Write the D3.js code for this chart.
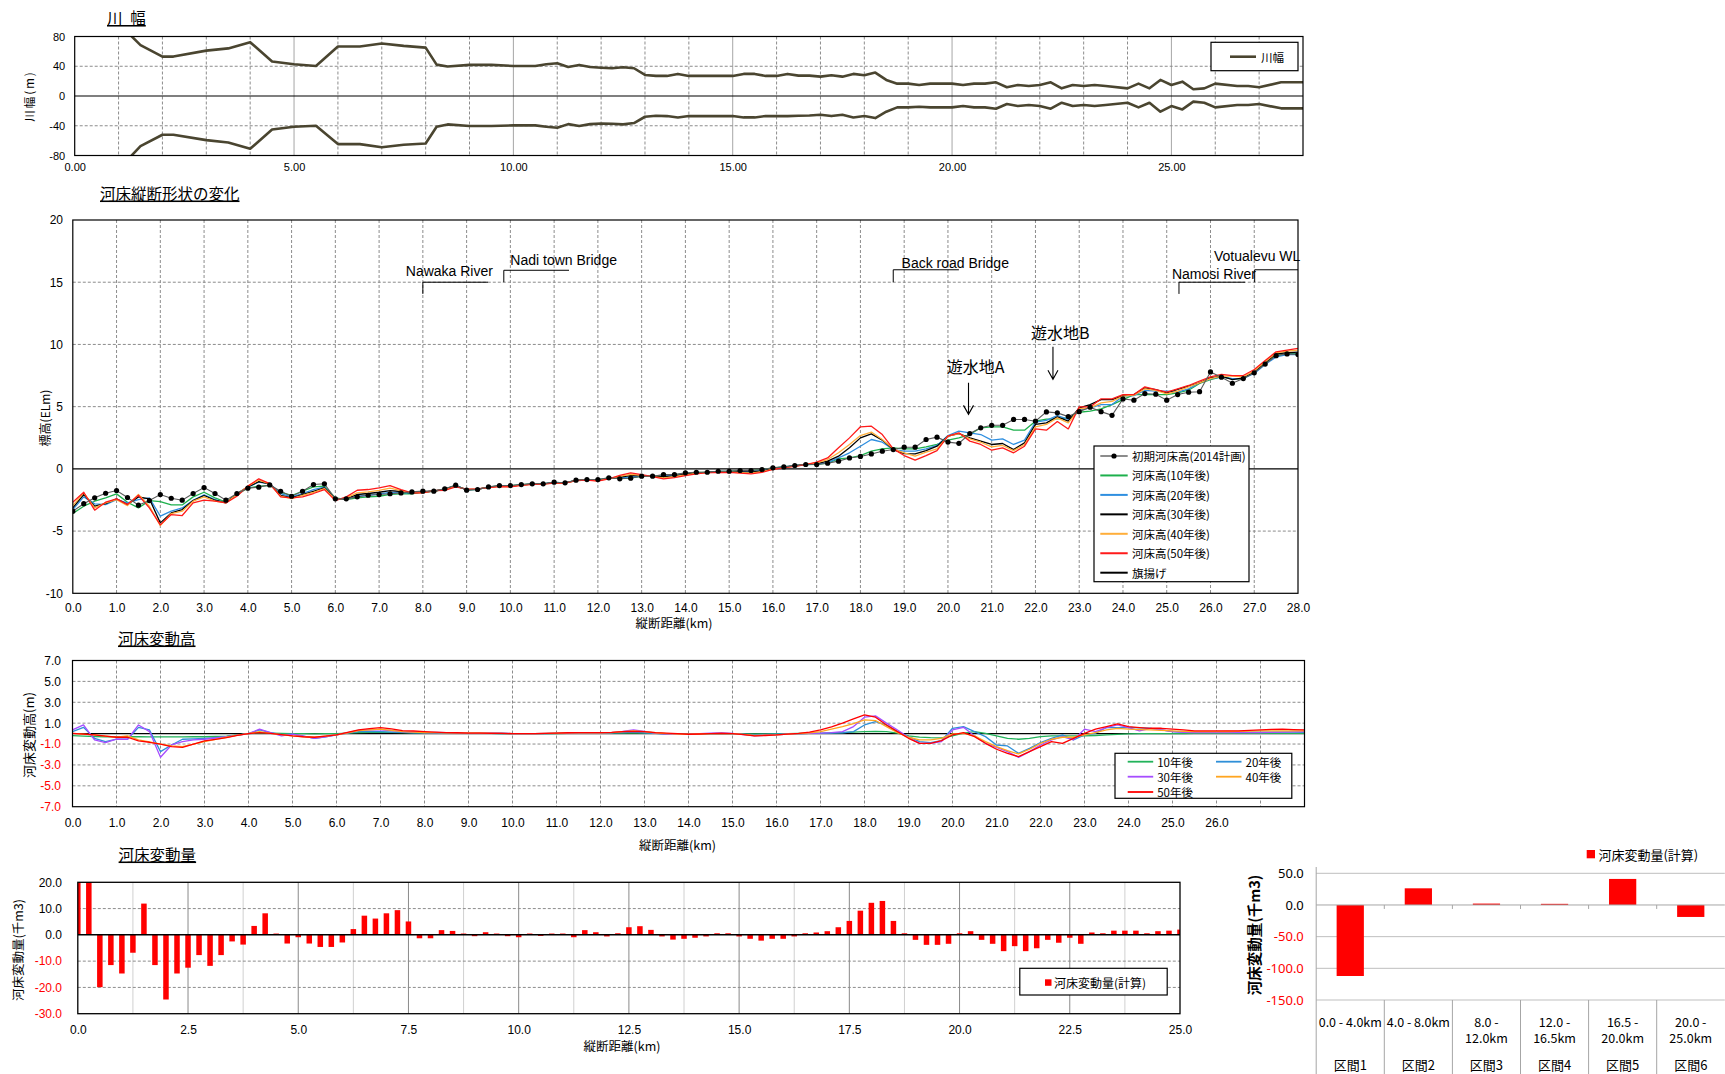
<!DOCTYPE html>
<html>
<head>
<meta charset="utf-8">
<script src="https://cdn.jsdelivr.net/npm/d3@7"></script>
<style>
  body { margin: 0; background: #fff; }
  svg { display: block; }
</style>
</head>
<body>
<svg id="chart" width="1725" height="1074"></svg>
<script>
// ---------------- data ----------------
// River width (m) from the centre line, left bank positive / right bank negative
const widthKm = [1.0,1.25,1.5,2.0,2.25,3.0,3.5,4.0,4.5,5.0,
  5.5,6.0,6.5,7.0,7.5,8.0,8.25,8.5,9.0,9.5,
  10.0,10.5,10.75,11.0,11.25,11.5,11.75,12.0,12.25,12.5,
  12.75,13.0,13.25,13.5,13.75,14.0,15.0,15.25,15.5,15.75,
  16.0,16.25,16.5,16.75,17.0,17.25,17.5,17.75,18.0,18.25,
  18.5,18.75,19.0,19.25,19.5,20.0,20.25,20.5,20.75,21.0,
  21.25,21.5,21.75,22.0,22.25,22.5,22.75,23.0,23.25,23.5,
  24.0,24.25,24.5,24.75,25.0,25.25,25.5,25.75,26.0,26.5,
  26.75,27.0,27.5,28.0];
const widthLeftBank = [98,83,68.5,53,53,61,64,72.4,46.3,42.7,
  40.4,66.5,66.5,70.5,67.4,65,42.2,39.6,41.8,41.8,
  40.4,40.4,42.7,44,39,41.8,39,38,37.3,38.6,
  37.3,28.3,27,27,29.7,27,27,29.7,29.7,27,
  27,29.7,27.4,27.4,26,27.9,26,29.7,27.9,31.5,
  21.6,16.6,16.6,14.8,16.6,16.6,14.8,16.6,16.6,18.4,
  11.7,14.8,13.5,14.8,18.4,10.3,14.8,13.5,14.8,13.5,
  10.3,16.6,10.3,21.6,14.8,19.3,9,10.3,16.6,13.5,
  13.5,11.7,18.4,18.4];
const widthRightBank = [-98,-83,-67.4,-52.1,-52,-59.3,-62.5,-71,-45,-41.3,
  -40,-64.7,-64.7,-68.8,-65.6,-63.8,-41.3,-38.2,-40.4,-40.4,
  -39.5,-39.5,-41.3,-42.7,-37.8,-40.4,-37.8,-36.9,-37.3,-38.2,
  -36.4,-27.9,-26.5,-27,-28.8,-27,-27,-28.8,-28.8,-27,
  -27,-27,-26.5,-26.2,-25.2,-27,-25.2,-28.8,-27,-29.7,
  -21.1,-15.3,-15.3,-14.4,-15.3,-15.3,-13.5,-15.3,-15.3,-17.1,
  -10.8,-13.5,-12.1,-13.5,-17.1,-9,-13.5,-12.1,-13.5,-12.1,
  -9,-15.3,-9,-21.1,-13.5,-18,-7.6,-9,-15.3,-12.1,
  -12.1,-10.8,-16.6,-16.6];

// Longitudinal stations (km)
const stationKm = [0,0.25,0.5,0.75,1,1.25,1.5,1.75,2,2.25,2.5,2.75,3,3.25,3.5,3.75,
  4,4.25,4.5,4.75,5,5.25,5.5,5.75,6,6.25,6.5,6.75,7,7.25,7.5,7.75,
  8,8.25,8.5,8.75,9,9.25,9.5,9.75,10,10.25,10.5,10.75,11,11.25,11.5,11.75,
  12,12.25,12.5,12.75,13,13.25,13.5,13.75,14,14.25,14.5,14.75,15,15.25,15.5,15.75,
  16,16.25,16.5,16.75,17,17.25,17.5,17.75,18,18.25,18.5,18.75,19,19.25,19.5,19.75,
  20,20.25,20.5,20.75,21,21.25,21.5,21.75,22,22.25,22.5,22.75,23,23.25,23.5,23.75,
  24,24.25,24.5,24.75,25,25.25,25.5,25.75,26,26.25,26.5,26.75,27,27.25,27.5,27.75,28];

// Bed elevation (EL m)
const bedInitial = [-3.4,-2.8,-2.33,-1.96, -1.74,-2.3,-2.92,-2.55, -2.06,-2.36,-2.52,-1.98, -1.5,-1.98,-2.52,-1.98,
  -1.55,-1.47,-1.29,-1.8, -2.2,-1.8,-1.26,-1.2, -2.41,-2.41,-2.25,-2.12, -2.06,-2.0,-1.93,-1.85,
  -1.79,-1.79,-1.6,-1.31, -1.71,-1.66,-1.45,-1.34, -1.34,-1.26,-1.2,-1.2, -1.07,-1.12,-0.91,-0.86,
  -0.86,-0.72,-0.8,-0.75, -0.59,-0.59,-0.46,-0.46, -0.32,-0.27,-0.27,-0.19, -0.19,-0.13,-0.13,-0.05,
  0.08,0.16,0.27,0.35, 0.35,0.45,0.62,0.88, 1.0,1.2,1.42,1.55, 1.74,1.74,2.36,2.55,
  2.15,2.05,2.84,3.3, 3.5,3.5,3.97,3.97, 3.83,4.58,4.5,4.2, 4.6,4.95,4.6,4.3,
  5.62,5.52,6.05,6.0, 5.52,5.97,6.16,6.2, 7.79,7.37,6.88,7.26, 7.72,8.42,9.1,9.24, 9.19];
const bed10 = [-3.59,-3.0,-2.6,-2.33, -2.01,-2.68,-3.14,-2.55, -2.63,-2.9,-2.9,-2.25, -1.88,-2.33,-2.68,-2.06,
  -1.55,-1.39,-1.34,-1.88, -2.14,-1.8,-1.45,-1.39, -2.33,-2.47,-2.33,-2.25, -2.2,-2.05,-2.0,-2.0,
  -1.85,-1.8,-1.62,-1.33, -1.7,-1.65,-1.46,-1.35, -1.35,-1.27,-1.21,-1.2, -1.08,-1.12,-0.92,-0.87,
  -0.87,-0.73,-0.78,-0.72, -0.6,-0.6,-0.5,-0.48, -0.35,-0.29,-0.28,-0.2, -0.19,-0.15,-0.14,-0.07,
  0.07,0.15,0.26,0.35, 0.36,0.46,0.8,0.88, 1.07,1.42,1.61,1.69, 1.61,1.61,1.77,1.96,
  2.31,2.49,2.76,3.3, 3.38,3.38,3.11,3.11, 3.83,4.0,4.02,4.1, 4.55,4.64,4.82,5.17,
  5.57,5.97,5.97,5.97, 5.97,6.11,6.32,6.86, 7.18,7.4,7.24,7.24, 7.72,8.47,9.11,9.25, 9.25];
const bed20 = [-3.27,-2.25,-2.81,-2.87, -2.47,-2.73,-2.47,-2.33, -3.8,-3.4,-3.14,-2.52, -2.09,-2.47,-2.73,-2.01,
  -1.47,-1.07,-1.2,-1.98, -2.25,-1.98,-1.66,-1.47, -2.39,-2.41,-2.2,-2.12, -2.01,-1.9,-1.9,-1.95,
  -1.85,-1.79,-1.63,-1.34, -1.69,-1.64,-1.46,-1.36, -1.37,-1.28,-1.22,-1.2, -1.08,-1.12,-0.92,-0.87,
  -0.89,-0.74,-0.72,-0.65, -0.57,-0.6,-0.55,-0.52, -0.38,-0.3,-0.28,-0.21, -0.2,-0.2,-0.2,-0.1,
  0.05,0.15,0.26,0.35, 0.38,0.5,0.88,1.29, 1.82,2.36,2.14,1.55, 1.42,1.42,1.61,1.88,
  2.68,3.03,2.9,2.76, 2.31,2.41,1.96,2.31, 3.75,3.9,4.28,3.97, 4.72,4.9,5.17,5.17,
  5.84,5.89,6.3,6.24, 6.24,6.16,6.43,6.91, 7.24,7.4,7.26,7.26, 7.67,8.39,9.0,9.19, 9.19];
const bed30 = [-3.14,-2.06,-3.0,-2.79, -2.41,-2.87,-2.25,-2.41, -4.34,-3.54,-3.27,-2.55, -2.14,-2.52,-2.73,-2.01,
  -1.45,-1.02,-1.2,-2.14, -2.33,-2.06,-1.8,-1.53, -2.41,-2.39,-2.06,-1.98, -1.88,-1.75,-1.82,-1.95,
  -1.88,-1.78,-1.65,-1.37, -1.67,-1.63,-1.47,-1.38, -1.4,-1.29,-1.23,-1.21, -1.1,-1.13,-0.93,-0.88,
  -0.92,-0.76,-0.66,-0.55, -0.55,-0.6,-0.63,-0.56, -0.42,-0.32,-0.28,-0.23, -0.22,-0.24,-0.26,-0.16,
  0.02,0.13,0.24,0.35, 0.42,0.62,1.02,1.69, 2.49,2.81,2.31,1.55, 1.23,1.21,1.47,1.82,
  2.63,2.84,2.49,2.23, 1.96,2.04,1.55,2.09, 3.57,3.7,4.18,3.83, 4.9,5.17,5.57,5.57,
  5.89,5.97,6.51,6.37, 6.11,6.38,6.64,6.91, 7.32,7.45,7.18,7.32, 7.8,8.52,9.25,9.33, 9.38];
const bed40 = [-2.95,-1.93,-3.14,-2.73, -2.47,-2.95,-2.06,-3.0, -4.56,-3.59,-3.4,-2.6, -2.25,-2.6,-2.73,-2.06,
  -1.39,-0.91,-1.2,-2.2, -2.39,-2.14,-1.88,-1.58, -2.47,-2.33,-1.93,-1.85, -1.72,-1.55,-1.75,-1.93,
  -1.9,-1.77,-1.68,-1.4, -1.65,-1.62,-1.48,-1.4, -1.42,-1.3,-1.24,-1.22, -1.12,-1.14,-0.94,-0.9,
  -0.95,-0.78,-0.6,-0.45, -0.52,-0.62,-0.72,-0.62, -0.48,-0.36,-0.3,-0.26, -0.25,-0.3,-0.35,-0.22,
  -0.02,0.12,0.22,0.35, 0.48,0.75,1.29,1.96, 2.68,2.95,2.36,1.61, 1.29,1.02,1.34,1.61,
  2.63,2.84,2.41,2.14, 1.77,1.88,1.47,1.96, 3.38,3.57,4.1,3.7, 4.82,4.9,5.3,5.43,
  5.84,5.92,6.43,6.3, 6.03,6.24,6.59,6.91, 7.26,7.45,7.45,7.4, 7.88,8.6,9.33,9.46, 9.54];
const bed50 = [-2.68,-1.88,-3.32,-2.68, -2.41,-2.87,-2.12,-3.14, -4.5,-3.67,-3.75,-2.73, -2.52,-2.6,-2.73,-2.2,
  -1.39,-0.8,-1.18,-2.25, -2.33,-2.25,-1.98,-1.66, -2.55,-2.25,-1.72,-1.66, -1.53,-1.34,-1.66,-1.93,
  -1.93,-1.75,-1.72,-1.45, -1.62,-1.6,-1.5,-1.42, -1.45,-1.32,-1.25,-1.22, -1.15,-1.15,-0.95,-0.9,
  -0.98,-0.8,-0.52,-0.32, -0.46,-0.62,-0.8,-0.7, -0.55,-0.4,-0.3,-0.3, -0.28,-0.35,-0.4,-0.28,
  -0.05,0.1,0.2,0.35, 0.54,0.88,1.69,2.49, 3.38,3.43,2.76,1.61, 1.07,0.7,1.07,1.47,
  2.63,2.9,2.23,1.96, 1.5,1.69,1.29,1.82, 3.22,3.11,3.8,3.21, 4.98,4.98,5.63,5.63,
  5.97,5.97,6.59,6.37, 6.16,6.43,6.7,7.05, 7.4,7.59,7.5,7.5, 7.99,8.71,9.41,9.54, 9.68];

// Bed-level change (m)
const chg10 = [-0.2,-0.25,-0.28,-0.3, -0.3,-0.3,-0.3,-0.32, -0.32,-0.32,-0.32,-0.3, -0.3,-0.28,-0.25,-0.12,
  0.0,0.08,0.05,0.02, 0.0,0.0,-0.02,0.0, 0.0,0.05,0.1,0.12, 0.15,0.12,0.1,0.06,
  0.05,0.04,0.03,0.03, 0.02,0.02,0.02,0.01, 0.0,0.0,0.0,0.0, 0.01,0.02,0.02,0.03,
  0.03,0.04,0.05,0.06, 0.04,0.02,0.0,-0.02, -0.03,-0.02,0.0,0.0, 0.0,-0.02,-0.03,-0.02,
  -0.01,0.0,0.01,0.02, 0.03,0.06,0.1,0.15, 0.19,0.2,0.19,0.05, -0.22,-0.33,-0.38,-0.4,
  -0.22,0.05,0.19,0.03, -0.22,-0.45,-0.54,-0.45, -0.29,-0.22,-0.22,-0.22, -0.22,-0.18,-0.13,-0.08,
  -0.03,0.0,0.0,0.0, 0.0,0.01,0.02,0.02, 0.02,0.02,0.02,0.02, 0.02,0.02,0.02,0.02, 0.02];
const chg20 = [0.19,0.6,-0.45,-0.77, -0.54,-0.54,0.6,0.35, -1.73,-1.09,-0.54,-0.5, -0.45,-0.38,-0.29,-0.15,
  0.0,0.35,0.1,-0.1, -0.05,-0.25,-0.45,-0.3, -0.13,0.05,0.19,0.2, 0.19,0.15,0.12,0.08,
  0.06,0.05,0.05,0.04, 0.03,0.03,0.02,0.01, 0.0,0.0,0.0,0.0, 0.02,0.03,0.04,0.05,
  0.04,0.06,0.1,0.14, 0.08,0.02,-0.04,-0.06, -0.06,-0.03,0.0,0.0, -0.01,-0.05,-0.1,-0.08,
  -0.05,-0.02,0.0,0.02, 0.03,0.05,0.08,0.19, 0.83,1.15,0.83,0.19, -0.29,-0.77,-0.86,-0.67,
  0.51,0.67,0.19,-0.29, -1.09,-1.18,-1.89,-1.41, -0.86,-0.45,-0.13,-0.6, -0.13,0.03,0.58,0.58,
  0.6,0.55,0.51,0.35, 0.19,0.15,0.13,0.13, 0.13,0.13,0.13,0.13, 0.13,0.14,0.15,0.14, 0.13];
const chg30 = [0.35,0.83,-0.6,-0.86, -0.54,-0.54,0.83,0.19, -2.27,-1.09,-0.77,-0.6, -0.54,-0.42,-0.29,-0.15,
  0.0,0.42,0.1,-0.22, -0.05,-0.25,-0.45,-0.3, -0.13,0.1,0.3,0.35, 0.35,0.28,0.19,0.14,
  0.1,0.12,0.1,0.08, 0.06,0.08,0.1,0.05, 0.0,0.0,0.0,0.02, 0.04,0.05,0.1,0.08,
  0.06,0.1,0.2,0.35, 0.2,0.05,-0.05,-0.08, -0.06,0.0,0.05,0.1, 0.02,-0.1,-0.22,-0.15,
  -0.13,-0.05,0.0,0.03, 0.05,0.1,0.19,0.67, 1.57,1.7,1.0,0.35, -0.35,-0.93,-0.93,-0.77,
  0.35,0.6,-0.22,-0.93, -1.31,-1.73,-2.27,-1.73, -1.09,-0.6,-0.29,-0.6, 0.42,0.19,0.58,0.83,
  0.58,0.26,0.51,0.35, 0.19,0.12,0.1,0.1, 0.1,0.1,0.1,0.1, 0.1,0.12,0.15,0.17, 0.19];
const chg40 = [0.03,-0.05,-0.13,-0.25, -0.35,-0.22,-0.6,-0.8, -1.0,-1.18,-1.25,-1.0, -0.77,-0.55,-0.35,-0.15,
  0.0,0.19,0.03,-0.1, -0.22,-0.3,-0.35,-0.25, -0.13,0.08,0.29,0.36, 0.42,0.3,0.19,0.14,
  0.1,0.09,0.08,0.07, 0.06,0.06,0.05,0.03, 0.0,0.0,0.0,0.03, 0.05,0.06,0.08,0.08,
  0.08,0.1,0.18,0.25, 0.18,0.08,0.0,-0.05, -0.06,-0.04,0.0,0.02, 0.0,-0.08,-0.18,-0.15,
  -0.12,-0.05,0.0,0.08, 0.19,0.42,0.67,0.95, 1.31,1.25,0.67,0.1, -0.35,-0.6,-0.6,-0.45,
  -0.03,0.03,-0.22,-0.77, -1.25,-1.63,-1.95,-1.5, -0.93,-0.54,-0.35,-0.35, -0.13,0.1,0.35,0.51,
  0.42,0.38,0.35,0.3, 0.26,0.22,0.19,0.19, 0.19,0.2,0.22,0.24, 0.26,0.26,0.26,0.26, 0.26];
const chg50 = [0.03,-0.05,-0.13,-0.25, -0.35,-0.35,-0.7,-0.83, -1.0,-1.25,-1.31,-1.0, -0.7,-0.55,-0.38,-0.18,
  0.0,0.1,0.03,-0.1, -0.22,-0.3,-0.35,-0.25, -0.13,0.12,0.35,0.48, 0.58,0.45,0.29,0.25,
  0.19,0.15,0.1,0.08, 0.05,0.04,0.03,0.02, 0.0,0.0,0.0,0.02, 0.05,0.08,0.1,0.1,
  0.1,0.12,0.18,0.22, 0.18,0.1,0.05,0.0, -0.06,-0.04,0.0,0.02, 0.0,-0.1,-0.22,-0.18,
  -0.13,-0.05,0.03,0.15, 0.35,0.65,1.0,1.4, 1.79,1.57,0.83,0.19, -0.45,-0.93,-0.93,-0.67,
  -0.13,0.1,-0.29,-0.93, -1.5,-1.89,-2.21,-1.73, -1.25,-0.77,-0.93,-0.45, 0.03,0.42,0.67,0.93,
  0.67,0.58,0.51,0.51, 0.42,0.35,0.26,0.26, 0.26,0.26,0.26,0.3, 0.35,0.4,0.42,0.38, 0.35];

// Bed volume change per station (thousand m3), 0.0 - 25.0 km
const volumeKm = stationKm.slice(0, 101);
const volumeChange = [24,22,-19.9,-11.5, -14.7,-6.8,11.9,-11.5, -24.6,-14.7,-12.5,-7.7, -11.8,-7.7,-2.5,-3.7,
  3.4,8.2,0.5,-3.3, -0.9,-3.3,-4.6,-4.6, -2.9,2.2,7.3,6.2, 8.2,9.4,5.1,-1.3,
  -1.3,1.8,1.5,0.5, -0.5,1.0,0.5,-0.5, -0.9,0.5,-0.4,0.5, 0.5,-0.9,1.8,1.0,
  -0.6,0.6,2.9,3.3, 1.9,-0.6,-1.8,-1.5, -1.1,-0.6,0.6,0.6, -0.6,-1.5,-2.2,-1.5,
  -1.5,-0.6,0.6,0.9, 1.4,2.9,5.3,9.2, 12.2,12.9,5.3,0.6, -1.9,-3.8,-3.8,-3.4,
  0.6,1.4,-1.9,-3.4, -6.2,-4.3,-6.2,-5.1, -1.9,-3.0,-1.1,-3.4, 0.9,0.6,1.6,1.6,
  1.6,0.6,1.4,1.6, 2.0];

// Section totals (thousand m3)
const sectionNames = ["区間1","区間2","区間3","区間4","区間5","区間6"];
const sectionRanges = ["0.0 - 4.0km","4.0 - 8.0km","8.0 - 12.0km","12.0 - 16.5km","16.5 - 20.0km","20.0 - 25.0km"];
const sectionVolume = [-112.1, 26.3, 2.2, 1.8, 41.1, -18.9];

// Flag annotations (旗揚げ): pole station, pole foot and head elevation, flag end station
const flagNames = ["Nawaka River","Nadi town Bridge","Back road Bridge","Namosi River","Votualevu WL"];
const flagKm = [8.0, 9.85, 18.75, 25.28, 27.01];
const flagFoot = [14.06, 15.0, 15.0, 14.06, 15.0];
const flagHead = [15.0, 15.96, 16.0, 15.0, 16.0];
const flagEndKm = [9.49, 11.34, 20.25, 26.79, 28.0];
const flagTextKm = [7.61, 10.0, 18.94, 25.12, 26.08];
const flagTextEl = [15.52, 16.38, 16.17, 15.23, 16.7];

// Retention basins
const basinNames = ["遊水地A","遊水地B"];
const basinKm = [20.47, 22.4];
const basinArrowTop = [6.93, 9.82];
const basinArrowTip = [4.38, 7.2];
const basinTextKm = [19.97, 21.9];
const basinTextEl = [7.73, 10.41];

// Tick labels
const widthTicksX = [0,5,10,15,20,25];
const widthTicksY = [80,40,0,-40,-80];
const profileTicksY = [20,15,10,5,0,-5,-10];
const changeTicksY = [7,5,3,1,-1,-3,-5,-7];
const volumeTicksX = [0,2.5,5,7.5,10,12.5,15,17.5,20,22.5,25];
const volumeTicksY = [20,10,0,-10,-20,-30];
const sectionTicksY = [50,0,-50,-100,-150];

// ---------------- drawing ----------------
const svg = d3.select("#chart");
const defs = svg.append("defs");
svg.append("rect").attr("width", 1725).attr("height", 1074).attr("fill", "#fff");

const LAT = "'Liberation Sans', Arial, sans-serif";
const JP = "'Noto Sans CJK JP', 'Liberation Sans', sans-serif";
const GRID = "#8c8c8c";
const fmt1 = d => d3.format(".1f")(d).replace("\u2212", "-");
const fmt0 = d => String(d);
const fmt2 = d => d3.format(".2f")(d);

function addText(parent, x, y, s, o = {}) {
  const t = parent.append("text").attr("x", x).attr("y", y).text(s)
    .attr("font-size", o.size || 12)
    .attr("font-family", o.family || LAT)
    .attr("fill", o.fill || "#000")
    .attr("text-anchor", o.anchor || "start");
  if (o.weight) t.attr("font-weight", o.weight);
  if (o.baseline) t.attr("dominant-baseline", o.baseline);
  if (o.spacing) t.attr("letter-spacing", o.spacing);
  if (o.rotate) t.attr("transform", `rotate(${o.rotate},${x},${y})`);
  if (o.underline) t.attr("text-decoration", "underline");
  return t;
}
function clipRect(id, P) {
  defs.append("clipPath").attr("id", id).append("rect")
    .attr("x", P.x0).attr("y", P.y0).attr("width", P.x1 - P.x0).attr("height", P.y1 - P.y0);
  return `url(#${id})`;
}
function vLines(g, xs, vals, P, stroke, dash, w) {
  g.append("g").selectAll("line").data(vals).join("line")
    .attr("x1", d => xs(d)).attr("x2", d => xs(d)).attr("y1", P.y0).attr("y2", P.y1)
    .attr("stroke", stroke).attr("stroke-width", w || 1).attr("stroke-dasharray", dash || null);
}
function hLines(g, ys, vals, P, stroke, dash, w) {
  g.append("g").selectAll("line").data(vals).join("line")
    .attr("y1", d => ys(d)).attr("y2", d => ys(d)).attr("x1", P.x0).attr("x2", P.x1)
    .attr("stroke", stroke).attr("stroke-width", w || 1).attr("stroke-dasharray", dash || null);
}
function frame(g, P, w) {
  g.append("rect").attr("x", P.x0).attr("y", P.y0).attr("width", P.x1 - P.x0).attr("height", P.y1 - P.y0)
    .attr("fill", "none").attr("stroke", "#000").attr("stroke-width", w || 1.2);
}
function axisX(g, xs, P, vals, f, pad, size) {
  const a = g.append("g").attr("transform", `translate(0,${P.y1})`)
    .call(d3.axisBottom(xs).tickValues(vals).tickSize(0).tickPadding(pad).tickFormat(f));
  a.select(".domain").remove();
  a.selectAll("text").attr("font-size", size).attr("font-family", LAT).attr("fill", "#000");
  return a;
}
function axisY(g, ys, P, vals, f, pad, size, negRed, family) {
  const a = g.append("g").attr("transform", `translate(${P.x0},0)`)
    .call(d3.axisLeft(ys).tickValues(vals).tickSize(0).tickPadding(pad).tickFormat(f));
  a.select(".domain").remove();
  a.selectAll("text").attr("font-size", size).attr("font-family", family || LAT)
    .attr("fill", d => (negRed && d < 0) ? "#ff0000" : "#000");
  return a;
}

// ===== 川幅 =====
{
  const P = {x0: 74.7, x1: 1303, y0: 36.5, y1: 155.5};
  const x = d3.scaleLinear().domain([0, 28]).range([P.x0, P.x1]);
  const y = d3.scaleLinear().domain([-80, 80]).range([P.y1, P.y0]);
  const g = svg.append("g");
  const kms = d3.range(1, 28);
  vLines(g, x, kms.filter(d => d % 5 !== 0), P, GRID, "3,2");
  vLines(g, x, kms.filter(d => d % 5 === 0), P, "#a6a6a6", null);
  hLines(g, y, [40, -40], P, GRID, "3,2");
  hLines(g, y, [0], P, "#000", null, 1.2);
  const cl = clipRect("clipA", P);
  const line = d3.line().x(d => x(d[0])).y(d => y(d[1]));
  const pg = g.append("g").attr("clip-path", cl);
  [widthLeftBank, widthRightBank].forEach(s => {
    pg.append("path").datum(d3.zip(widthKm, s)).attr("d", line)
      .attr("fill", "none").attr("stroke", "#4a4530").attr("stroke-width", 2.6).attr("stroke-linejoin", "round");
  });
  frame(g, P, 1.2);
  axisX(g, x, P, widthTicksX, fmt2, 7.5, 11);
  axisY(g, y, P, widthTicksY, fmt0, 9.5, 11, false);
  addText(g, 29, (P.y0 + P.y1) / 2, "川幅(m)", {size: 11.5, family: JP, anchor: "middle", baseline: "central", rotate: -90, spacing: 2});
  addText(g, 107, 24, "川\u2002幅", {size: 15.5, family: JP, underline: true});
  // legend
  const lg = g.append("g");
  lg.append("rect").attr("x", 1211).attr("y", 42.3).attr("width", 87).attr("height", 28.4)
    .attr("fill", "#fff").attr("stroke", "#000").attr("stroke-width", 1.2);
  lg.append("line").attr("x1", 1230).attr("x2", 1256).attr("y1", 56.7).attr("y2", 56.7)
    .attr("stroke", "#4a4530").attr("stroke-width", 2.6);
  addText(lg, 1261, 56.7, "川幅", {size: 11.5, family: JP, baseline: "central"});
}

// ===== 河床縦断形状の変化 =====
const profileSeries = [
  {name: "河床高(10年後)", values: bed10, color: "#1db04c"},
  {name: "河床高(20年後)", values: bed20, color: "#2f8fe0"},
  {name: "河床高(30年後)", values: bed30, color: "#000000"},
  {name: "河床高(40年後)", values: bed40, color: "#ffae3a"},
  {name: "河床高(50年後)", values: bed50, color: "#ff1a1a"}
];
{
  const P = {x0: 72.8, x1: 1298, y0: 220, y1: 593.3};
  const x = d3.scaleLinear().domain([0, 28]).range([P.x0, P.x1]);
  const y = d3.scaleLinear().domain([-10, 20]).range([P.y1, P.y0]);
  const g = svg.append("g");
  vLines(g, x, d3.range(1, 28), P, GRID, "3,2");
  hLines(g, y, [15, 10, 5, -5], P, GRID, "3,2");
  hLines(g, y, [0], P, "#000", null, 1.2);
  const cl = clipRect("clipB", P);
  const pg = g.append("g").attr("clip-path", cl);
  const line = d3.line().x(d => x(d[0])).y(d => y(d[1]));
  profileSeries.forEach(s => {
    pg.append("path").datum(d3.zip(stationKm, s.values)).attr("d", line)
      .attr("fill", "none").attr("stroke", s.color).attr("stroke-width", 1.3).attr("stroke-linejoin", "round");
  });
  pg.append("path").datum(d3.zip(stationKm, bedInitial)).attr("d", line)
    .attr("fill", "none").attr("stroke", "#5a5a5a").attr("stroke-width", 1.1);
  pg.append("g").selectAll("circle").data(d3.zip(stationKm, bedInitial)).join("circle")
    .attr("cx", d => x(d[0])).attr("cy", d => y(d[1])).attr("r", 2.6).attr("fill", "#000");
  frame(g, P, 1.2);

  // flags
  const fg = g.append("g");
  flagNames.forEach((n, i) => {
    fg.append("path")
      .attr("d", `M${x(flagKm[i])},${y(flagFoot[i])}V${y(flagHead[i])}H${x(flagEndKm[i])}`)
      .attr("fill", "none").attr("stroke", "#000").attr("stroke-width", 1);
    addText(fg, x(flagTextKm[i]), y(flagTextEl[i]), n, {size: 14});
  });
  // retention basin markers
  basinNames.forEach((n, i) => {
    const ax = x(basinKm[i]), yt = y(basinArrowTop[i]), yb = y(basinArrowTip[i]);
    fg.append("path").attr("d", `M${ax},${yt}V${yb}M${ax - 5},${yb - 9}L${ax},${yb}L${ax + 5},${yb - 9}`)
      .attr("fill", "none").attr("stroke", "#000").attr("stroke-width", 1.1);
    addText(fg, x(basinTextKm[i]), y(basinTextEl[i]), n, {size: 16, family: JP});
  });

  axisX(g, x, P, d3.range(0, 29), fmt1, 10.2, 12);
  axisY(g, y, P, profileTicksY, fmt0, 9.8, 12, false);
  addText(g, 674, 627.5, "縦断距離(km)", {size: 12.5, family: JP, anchor: "middle"});
  addText(g, 44, 418, "標高(ELm)", {size: 12, family: JP, anchor: "middle", baseline: "central", rotate: -90});
  addText(g, 100, 199.5, "河床縦断形状の変化", {size: 15.5, family: JP, underline: true});

  // legend
  const lg = g.append("g");
  lg.append("rect").attr("x", 1094).attr("y", 446).attr("width", 155).attr("height", 135.7)
    .attr("fill", "#fff").attr("stroke", "#000").attr("stroke-width", 1.2);
  const items = [{name: "初期河床高(2014計画)", color: "#404040", dot: true}]
    .concat(profileSeries.map(s => ({name: s.name, color: s.color})))
    .concat([{name: "旗揚げ", color: "#000"}]);
  const rowY = d3.scalePoint().domain(d3.range(items.length)).range([456, 572.7]);
  items.forEach((it, i) => {
    const yy = rowY(i);
    lg.append("line").attr("x1", 1100.3).attr("x2", 1127.7).attr("y1", yy).attr("y2", yy)
      .attr("stroke", it.color).attr("stroke-width", it.dot ? 1.2 : 2);
    if (it.dot) lg.append("circle").attr("cx", 1114).attr("cy", yy).attr("r", 2.6).attr("fill", "#000");
    addText(lg, 1131.9, yy, it.name, {size: 11.5, family: JP, baseline: "central"});
  });
}

// ===== 河床変動高 =====
const changeSeries = [
  {name: "10年後", values: chg10, color: "#22b35a"},
  {name: "20年後", values: chg20, color: "#2f8fd8"},
  {name: "30年後", values: chg30, color: "#a64dff"},
  {name: "40年後", values: chg40, color: "#ffa520"},
  {name: "50年後", values: chg50, color: "#ff0000"}
];
{
  const P = {x0: 72.5, x1: 1304.5, y0: 660.5, y1: 806.7};
  const x = d3.scaleLinear().domain([0, 28]).range([P.x0, P.x1]);
  const y = d3.scaleLinear().domain([-7, 7]).range([P.y1, P.y0]);
  const g = svg.append("g");
  vLines(g, x, d3.range(1, 28), P, GRID, "3,2");
  hLines(g, y, [5, 3, 1, -1, -3, -5], P, GRID, "3,2");
  const cl = clipRect("clipC", P);
  const pg = g.append("g").attr("clip-path", cl);
  const line = d3.line().x(d => x(d[0])).y(d => y(d[1]));
  pg.append("line").attr("x1", P.x0).attr("x2", P.x1).attr("y1", y(0)).attr("y2", y(0))
    .attr("stroke", "#000").attr("stroke-width", 1.3);
  changeSeries.forEach(s => {
    pg.append("path").datum(d3.zip(stationKm, s.values)).attr("d", line)
      .attr("fill", "none").attr("stroke", s.color).attr("stroke-width", 1.3).attr("stroke-linejoin", "round");
  });
  frame(g, P, 1.2);
  axisX(g, x, P, d3.range(0, 27), fmt1, 11.8, 12);
  axisY(g, y, P, changeTicksY, fmt1, 11.5, 12, true);
  addText(g, 677.5, 850, "縦断距離(km)", {size: 12.5, family: JP, anchor: "middle"});
  addText(g, 28.6, 735, "河床変動高(m)", {size: 13, family: JP, anchor: "middle", baseline: "central", rotate: -90});
  addText(g, 118, 644.5, "河床変動高", {size: 15.5, family: JP, underline: true});

  const lg = g.append("g");
  lg.append("rect").attr("x", 1115).attr("y", 753.3).attr("width", 176.8).attr("height", 45)
    .attr("fill", "#fff").attr("stroke", "#000").attr("stroke-width", 1.2);
  const colX = [1127.7, 1216];
  const rowYs = [761.7, 776.7, 792];
  changeSeries.forEach((s, i) => {
    const cx = colX[i % 2], cy = rowYs[Math.floor(i / 2)];
    lg.append("line").attr("x1", cx).attr("x2", cx + 25.5).attr("y1", cy).attr("y2", cy)
      .attr("stroke", s.color).attr("stroke-width", 1.8);
    addText(lg, cx + 29.5, cy, s.name, {size: 11.5, family: JP, baseline: "central"});
  });
}

// ===== 河床変動量 =====
{
  const P = {x0: 77.8, x1: 1180, y0: 882.3, y1: 1013.7};
  const x = d3.scaleLinear().domain([0, 25]).range([P.x0, P.x1]);
  const y = d3.scaleLinear().domain([-30, 20]).range([P.y1, P.y0]);
  const g = svg.append("g");
  vLines(g, x, d3.range(1.25, 25, 2.5), P, "#d0d0d0", null);
  vLines(g, x, d3.range(2.5, 25, 2.5), P, "#8a8a8a", null);
  hLines(g, y, [10, -10, -20], P, GRID, "3,2");
  const cl = clipRect("clipD", P);
  const pg = g.append("g").attr("clip-path", cl);
  const bw = x(0.125) - x(0);
  pg.append("g").selectAll("rect").data(d3.zip(volumeKm, volumeChange)).join("rect")
    .attr("x", d => x(d[0]) - bw / 2).attr("width", bw)
    .attr("y", d => y(Math.max(0, d[1]))).attr("height", d => Math.abs(y(d[1]) - y(0)))
    .attr("fill", "#ff0000");
  pg.append("line").attr("x1", P.x0).attr("x2", P.x1).attr("y1", y(0)).attr("y2", y(0))
    .attr("stroke", "#000").attr("stroke-width", 1.5);
  frame(g, P, 1.3);
  axisX(g, x, P, volumeTicksX, fmt1, 12, 12);
  axisY(g, y, P, volumeTicksY, fmt1, 15.8, 12, true);
  addText(g, 622, 1050.5, "縦断距離(km)", {size: 12.5, family: JP, anchor: "middle"});
  addText(g, 17.8, 950, "河床変動量(千m3)", {size: 12.5, family: JP, anchor: "middle", baseline: "central", rotate: -90});
  addText(g, 118.6, 860.5, "河床変動量", {size: 15.5, family: JP, underline: true});

  const lg = g.append("g");
  lg.append("rect").attr("x", 1019.8).attr("y", 968.3).attr("width", 147.4).attr("height", 26.7)
    .attr("fill", "#fff").attr("stroke", "#000").attr("stroke-width", 1.2);
  lg.append("rect").attr("x", 1045).attr("y", 979.3).attr("width", 6.5).attr("height", 6.5).attr("fill", "#ff0000");
  addText(lg, 1054, 982.6, "河床変動量(計算)", {size: 12, family: JP, baseline: "central"});
}

// ===== 区間別 河床変動量 =====
{
  const P = {x0: 1316.2, x1: 1724.8, y0: 873.3, y1: 1000};
  const y = d3.scaleLinear().domain([-150, 50]).range([P.y1, P.y0]);
  const xCat = d3.scaleBand().domain(sectionNames).range([P.x0, P.x1]);
  const xBar = d3.scaleBand().domain(sectionNames).range([P.x0, P.x1]).paddingInner(0.6).paddingOuter(0.3);
  const g = svg.append("g");
  hLines(g, y, [50, -50, -100, -150], P, "#bfbfbf", null);
  g.append("g").selectAll("rect").data(d3.zip(sectionNames, sectionVolume)).join("rect")
    .attr("x", d => xBar(d[0])).attr("width", xBar.bandwidth())
    .attr("y", d => y(Math.max(0, d[1]))).attr("height", d => Math.abs(y(d[1]) - y(0)))
    .attr("fill", "#ff0000");
  // category axis on the zero line
  g.append("line").attr("x1", P.x0).attr("x2", P.x1).attr("y1", y(0)).attr("y2", y(0))
    .attr("stroke", "#a6a6a6").attr("stroke-width", 1);
  const bounds = sectionNames.slice(1).map(n => xCat(n));
  g.append("g").selectAll("line").data(bounds).join("line")
    .attr("x1", d => d).attr("x2", d => d).attr("y1", y(0)).attr("y2", y(0) + 4)
    .attr("stroke", "#a6a6a6");
  g.append("g").selectAll("line").data(bounds).join("line")
    .attr("x1", d => d).attr("x2", d => d).attr("y1", P.y1).attr("y2", 1074)
    .attr("stroke", "#a6a6a6");
  g.append("line").attr("x1", P.x0).attr("x2", P.x0).attr("y1", 867).attr("y2", 1074)
    .attr("stroke", "#a6a6a6");
  axisY(g, y, P, sectionTicksY, fmt1, 12.4, 13, true, "'Noto Sans', 'Liberation Sans', sans-serif");

  const SANS = "'Noto Sans CJK JP', 'Noto Sans', sans-serif";
  sectionNames.forEach((n, i) => {
    const cx = xCat(n) + xCat.bandwidth() / 2;
    const r = sectionRanges[i];
    if (r.length > 11) {
      const parts = r.split(" - ");
      addText(g, cx, 1021.7, parts[0] + " -", {size: 12.5, family: SANS, anchor: "middle", baseline: "central"});
      addText(g, cx, 1037.7, parts[1], {size: 12.5, family: SANS, anchor: "middle", baseline: "central"});
    } else {
      addText(g, cx, 1021.7, r, {size: 12.5, family: SANS, anchor: "middle", baseline: "central"});
    }
    addText(g, cx, 1064, n, {size: 13, family: SANS, anchor: "middle", baseline: "central"});
  });
  addText(g, 1253.6, 935, "河床変動量(千m3)", {size: 14.5, family: SANS, weight: "bold", anchor: "middle", baseline: "central", rotate: -90});
  g.append("rect").attr("x", 1586.7).attr("y", 850).attr("width", 8.3).attr("height", 8.3).attr("fill", "#ff0000");
  addText(g, 1598.4, 854.2, "河床変動量(計算)", {size: 13, family: SANS, baseline: "central"});
}
</script>
</body>
</html>
